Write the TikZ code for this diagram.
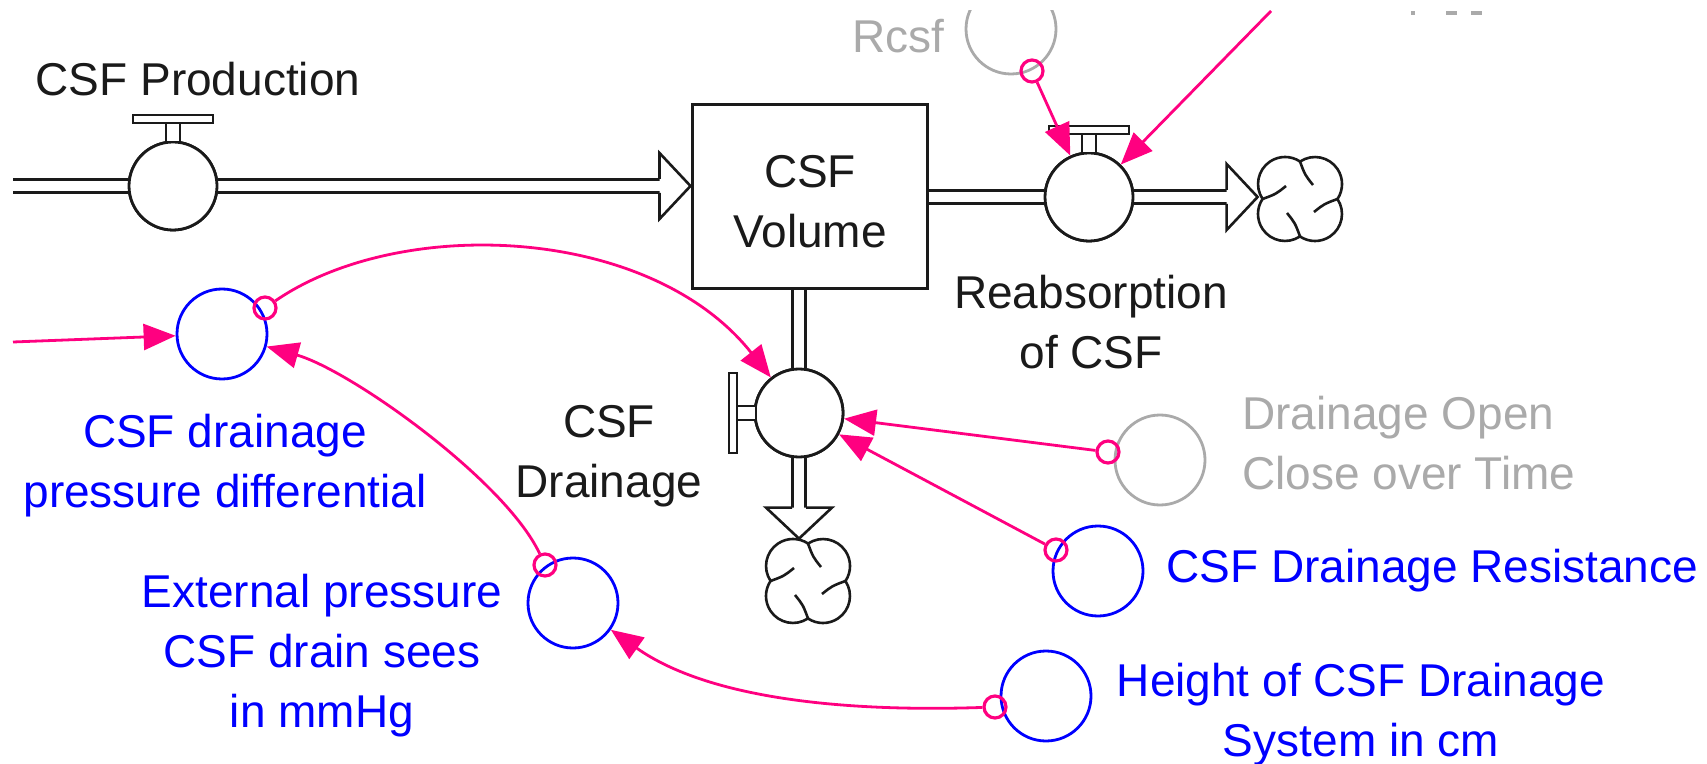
\documentclass[tikz,border=0pt]{standalone}
\usepackage{fontspec}
\setmainfont{Liberation Sans}
\usetikzlibrary{arrows.meta,calc}
\definecolor{lnk}{RGB}{255,0,128}
\definecolor{auxblue}{RGB}{0,0,255}
\definecolor{ghost}{RGB}{170,170,170}
\definecolor{ink}{RGB}{26,26,26}
\newcommand\HandleUp[1]{%
  \draw[ink, line width=1.3pt, fill=white] ($(#1.center)+(-7,-44)$) rectangle ($(#1.center)+(7,-63)$);
  \draw[ink, line width=1.3pt, fill=white] ($(#1.center)+(-40,-63)$) rectangle ($(#1.center)+(40,-71)$);}
\newcommand\HandleLeft[1]{%
  \draw[ink, line width=1.3pt, fill=white] ($(#1.center)+(-43,-7)$) rectangle ($(#1.center)+(-62,7)$);
  \draw[ink, line width=1.3pt, fill=white] ($(#1.center)+(-62,-40)$) rectangle ($(#1.center)+(-70,40)$);}
\newcommand\FlowHead[2]{%
  \begin{scope}[shift={(#1)}, rotate=#2]
    \fill[white] (0,-33) -- (31,0) -- (0,33) -- cycle;
    \draw[ink, line width=1.3pt, line join=miter] (0,-7) -- (0,-33) -- (31,0) -- (0,33) -- (0,7);
  \end{scope}}
\tikzset{
  cloudshape/.pic={
    \foreach \r in {0,90,180,270}{
      \begin{scope}[rotate=\r]
        \draw[ink, line width=1.3pt] (13,-14) .. controls (5,-24) .. (0,-37.4)
          arc[start angle=-123.8, end angle=33.8, radius=27];
      \end{scope}
    }
  }
}
\begin{document}
\begin{tikzpicture}[x=0.5pt,y=-0.5pt,
  lbl/.style={font=\fontsize{23}{30}\selectfont, inner sep=0, anchor=base},
  valvebody/.style={circle, draw=ink, line width=1.4pt, minimum size=44pt, inner sep=0, fill=white},
  auxc/.style={circle, draw=auxblue, line width=1.4pt, minimum size=45pt, inner sep=0},
  ghostc/.style={circle, draw=ghost, line width=1.4pt, minimum size=45pt, inner sep=0},
  tail/.style={circle, draw=lnk, line width=1.6pt, minimum size=11pt, inner sep=0},
  link/.style={draw=lnk, line width=1.4pt, -{Triangle[length=16pt,width=13pt]}},
  pipe/.style={draw=ink, double=white, double distance=5pt, line width=1.4pt},
  cloudnode/.style={circle, minimum size=42pt, inner sep=0}
]
\fill[white] (0,0) rectangle (1707,764);
\useasboundingbox (0,0) rectangle (1707,764);

% stock
\node[draw=ink, line width=1.5pt, minimum width=117.5pt, minimum height=92pt, inner sep=0, fill=white] (stock) at (809.5,197) {};
\node[lbl, align=center, text=ink] (labV) at (810,248) {CSF\\Volume};

% valves and clouds
\node[valvebody] (valveP) at (173,186) {};
\node[valvebody] (valveR) at (1089,197) {};
\node[valvebody] (valveD) at (799,413) {};
\node[cloudnode] (cloudR) at (1300,199) {};
\node[cloudnode] (cloudD) at (808,581) {};
\pic at (cloudR) {cloudshape};
\pic at (cloudD) {cloudshape};

% pipes
\coordinate (srcP) at (13,186);
\coordinate (pP) at ($(stock.west |- valveP)+(-31,0)$);
\coordinate (pR) at ($(cloudR.west |- valveR)+(-31,0)$);
\coordinate (pD) at ($(valveD |- cloudD.north)+(0,-31)$);
\draw[pipe] (srcP) -- (valveP);
\draw[pipe] (valveP) -- (pP);
\FlowHead{pP}{0}
\draw[pipe] (stock.east |- valveR) -- (valveR);
\draw[pipe] (valveR) -- (pR);
\FlowHead{pR}{0}
\draw[pipe] (stock.south -| valveD) -- (valveD);
\draw[pipe] (valveD) -- (pD);
\FlowHead{pD}{-90}
\node[valvebody] at (valveP) {};
\node[valvebody] at (valveR) {};
\node[valvebody] at (valveD) {};
\HandleUp{valveP}
\HandleUp{valveR}
\HandleLeft{valveD}

% auxiliaries
\node[auxc] (auxPD) at (222,334) {};
\node[auxc] (auxEP) at (573,603) {};
\node[auxc] (auxH) at (1046,696) {};
\node[auxc] (auxR) at (1098,571) {};
\node[ghostc] (auxDO) at (1160,460) {};
\begin{scope}
  \clip (0,11) rectangle (1707,764);
  \node[ghostc] (auxRcsf) at (1011,29) {};
\end{scope}
\fill[ghost] (1411,11) rectangle (1415,15);
\fill[ghost] (1446,11) rectangle (1457,15);
\fill[ghost] (1471,11) rectangle (1482,15);

% link tails
\node[tail] (tPD) at (265,308) {};
\node[tail] (tEP) at (545,565) {};
\node[tail] (tH) at (995,707) {};
\node[tail] (tR) at (1056,550) {};
\node[tail] (tDO) at (1108,452) {};
\node[tail] (tRcsf) at (1032,71) {};
\coordinate (lfree) at (13,342);
\coordinate (topEnd) at (1271,11);

% links
\draw[link] (lfree) -- (auxPD);
\draw[link] (tPD) .. controls (400,215) and (650,225) .. (valveD);
\draw[link] (tEP) .. controls (505,480) and (350,370) .. (auxPD);
\draw[link] (tH) .. controls (850,712) and (710,700) .. (auxEP);
\draw[link] (tR) -- (valveD);
\draw[link] (tDO) -- (valveD);
\draw[link] (tRcsf) -- (valveR);
\draw[link] (topEnd) -- (valveR);

% labels
\node[lbl, text=ink] (labP) at (198,96) {CSF Production};
\node[lbl, align=center, text=ink] (labR) at (1091,369) {Reabsorption\\of CSF};
\node[lbl, align=center, text=ink] (labD) at (609,497) {CSF\\Drainage};
\node[lbl, align=center, text=auxblue] (labPD) at (225,507) {CSF drainage\\pressure differential};
\node[lbl, align=center, text=auxblue] (labEP) at (322,727) {External pressure\\CSF drain sees\\in mmHg};
\node[lbl, align=center, text=auxblue] (labH) at (1361,756) {Height of CSF Drainage\\System in cm};
\node[lbl, anchor=base west, text=auxblue] (labRes) at (1166,582) {CSF Drainage Resistance};
\node[lbl, anchor=base west, align=left, text=ghost] (labDO) at (1242,489) {Drainage Open\\Close over Time};
\node[lbl, anchor=base east, text=ghost] (labRcsf) at (945,53) {Rcsf};
\end{tikzpicture}
\end{document}
